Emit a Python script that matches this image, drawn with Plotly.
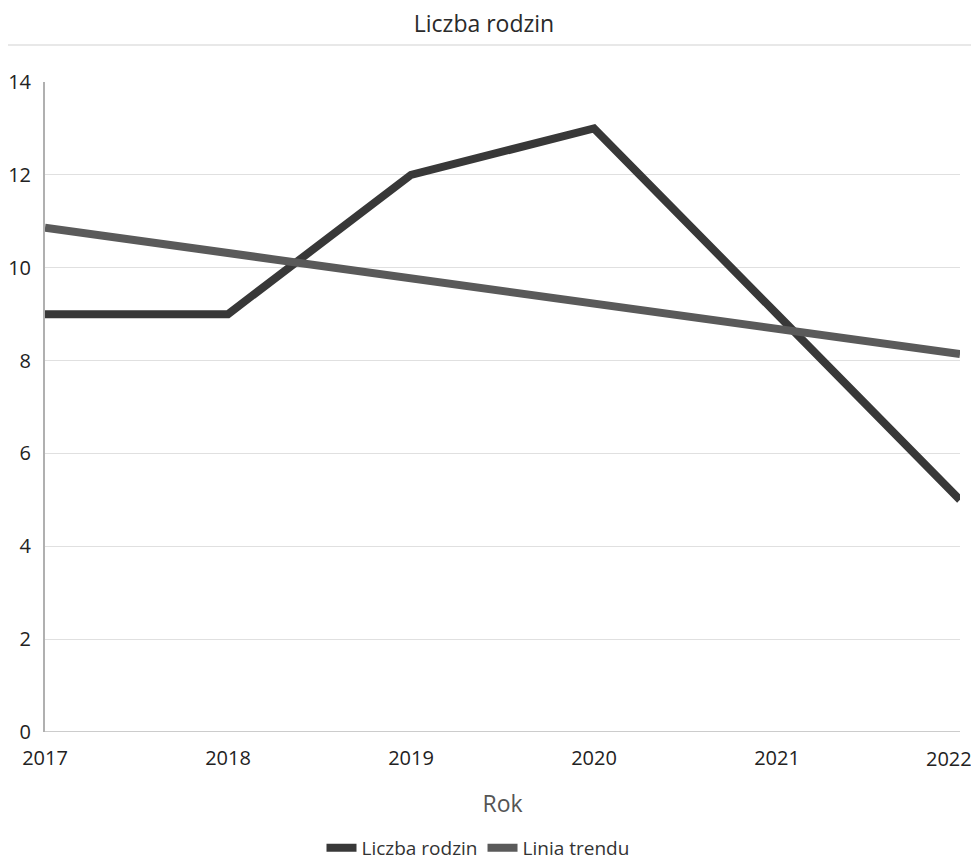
import plotly.graph_objects as go

years = [2017, 2018, 2019, 2020, 2021, 2022]
liczba_rodzin = [9, 9, 12, 13, 9, 5]
linia_trendu = [10.86, 10.31, 9.77, 9.23, 8.69, 8.14]
y_ticks = [0, 2, 4, 6, 8, 10, 12, 14]

# page has an 8px body margin: figure drawn at (8, 8)
W, H = 971, 853
L, R, T, B = 37, 19, 74, 129
PW, PH = W - L - R, H - T - B

fig = go.Figure()
fig.add_trace(go.Scatter(x=years, y=liczba_rodzin, mode="lines", name="Liczba rodzin",
                         line=dict(color="#383838", width=8)))
fig.add_trace(go.Scatter(x=years, y=linia_trendu, mode="lines", name="Linia trendu",
                         line=dict(color="#5a5a5a", width=8)))

fig.update_layout(
    width=W, height=H,
    margin=dict(l=L, r=R, t=T, b=B, autoexpand=False),
    paper_bgcolor="white", plot_bgcolor="white",
    font=dict(family="Open Sans, sans-serif", color="#333333", size=20),
    title=dict(text="Liczba rodzin", x=(484 - 8) / W, xanchor="center", y=1 - 16 / H,
               yanchor="middle", font=dict(size=23, color="#2a2a2a")),
    showlegend=True,
    legend=dict(orientation="h", x=(478 - 8 - L) / PW, xanchor="center", y=-116 / PH,
                yanchor="middle", font=dict(size=19, color="#333333"), itemwidth=30),
    xaxis=dict(range=[2017, 2022], tickvals=years[:-1], ticktext=[str(v) for v in years[:-1]],
               showgrid=False, zeroline=False, showline=False, ticks="",
               ticklabelstandoff=12, automargin=False,
               title=dict(text="Rok", font=dict(size=23, color="#555555"), standoff=25),
               tickfont=dict(size=20, color="#222222")),
    yaxis=dict(range=[0, 14], tickvals=y_ticks, showgrid=True, gridcolor="#e0e0e0",
               gridwidth=1, zeroline=False, showline=True, linecolor="#b0b0b0", linewidth=2,
               ticks="", ticklabelstandoff=8, automargin=False,
               tickfont=dict(size=20, color="#222222")),
    annotations=[dict(x=years[-1], y=0, xref="x", yref="y", text=str(years[-1]),
                      showarrow=False, xanchor="right", yanchor="top", xshift=14, yshift=-11,
                      font=dict(size=20, color="#222222"))],
    shapes=[dict(type="line", xref="paper", yref="paper",
                 x0=-L / PW, x1=1 + R / PW, y0=1 + 37 / PH, y1=1 + 37 / PH,
                 line=dict(color="#e8e8e8", width=2)),
            dict(type="line", xref="paper", yref="y", x0=0, x1=1, y0=0, y1=0,
                 line=dict(color="#cccccc", width=2))],
)

fig.write_html("out.html")
